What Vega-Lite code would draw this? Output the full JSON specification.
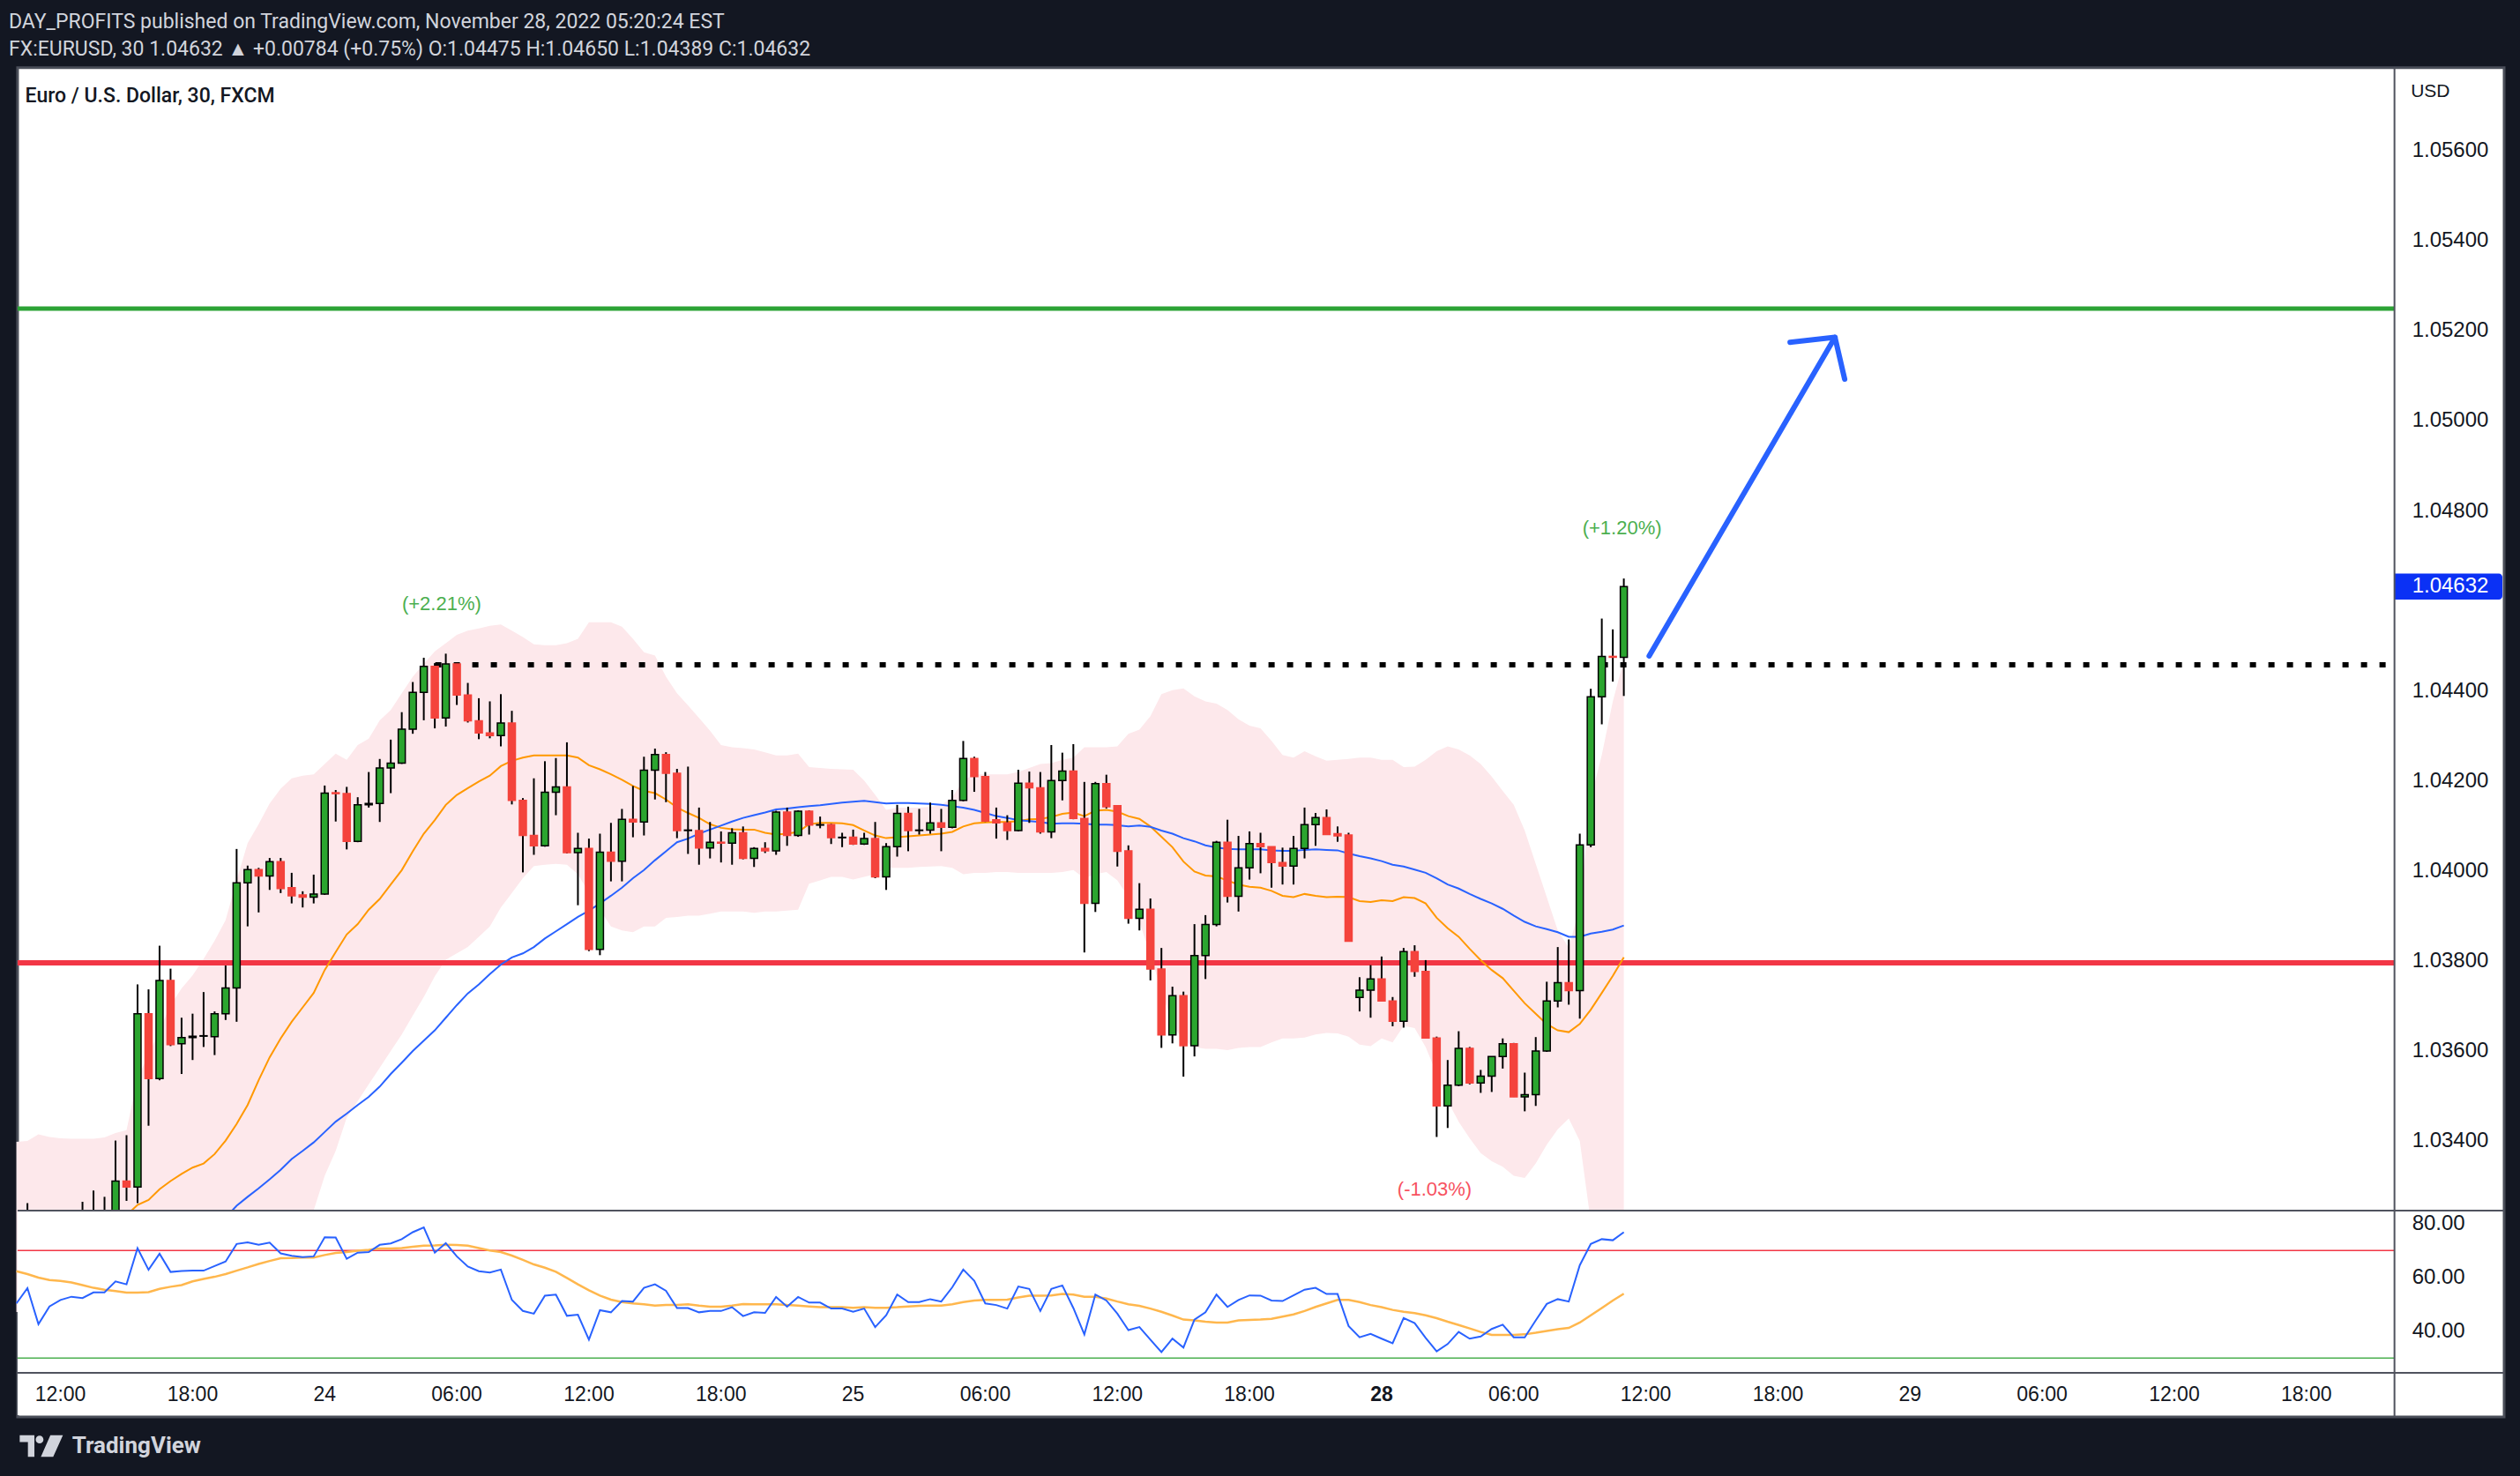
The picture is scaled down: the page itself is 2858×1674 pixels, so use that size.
{
"$schema":"https://vega.github.io/schema/vega-lite/v6.json",
"width":2858,"height":1674,"autosize":{"type":"none"},"padding":0,
"background":"#131722",
"title":{"text":"DAY_PROFITS published on TradingView.com, November 28, 2022 05:20:24 EST","subtitle":"FX:EURUSD, 30 1.04632 ▲ +0.00784 (+0.75%) O:1.04475 H:1.04650 L:1.04389 C:1.04632","anchor":"start","orient":"top","frame":"group","font":"Roboto","fontSize":23,"fontWeight":"normal","color":"#d1d4dc","subtitleFont":"Roboto","subtitleFontSize":23,"subtitleColor":"#d1d4dc","subtitlePadding":8,"offset":-68,"dx":10},
"config":{"view":{"stroke":null},"text":{"font":"Liberation Sans"}},
"datasets":{
"candles":[
{"i":-3,"o":1.0318,"h":1.03262,"l":1.0305,"c":1.032},{"i":-2,"o":1.032,"h":1.0323,"l":1.0308,"c":1.0312},{"i":-1,"o":1.0312,"h":1.0322,"l":1.0306,"c":1.0318},{"i":0,"o":1.0318,"h":1.0323,"l":1.031,"c":1.0315},{"i":1,"o":1.0315,"h":1.0324,"l":1.0311,"c":1.032},{"i":2,"o":1.032,"h":1.03265,"l":1.0316,"c":1.0322},{"i":3,"o":1.0322,"h":1.0329,"l":1.0312,"c":1.032},{"i":4,"o":1.032,"h":1.03276,"l":1.0317,"c":1.0323},{"i":5,"o":1.0323,"h":1.03401,"l":1.032,"c":1.03311},{"i":6,"o":1.03311,"h":1.03413,"l":1.03267,"c":1.03298},
{"i":7,"o":1.03298,"h":1.03748,"l":1.03262,"c":1.03683},{"i":8,"o":1.03683,"h":1.03737,"l":1.03434,"c":1.03539},{"i":9,"o":1.03539,"h":1.03834,"l":1.03535,"c":1.03757},{"i":10,"o":1.03757,"h":1.03783,"l":1.03611,"c":1.03614},{"i":11,"o":1.03616,"h":1.03674,"l":1.03549,"c":1.0363},{"i":12,"o":1.0363,"h":1.03683,"l":1.0358,"c":1.03633},{"i":13,"o":1.03633,"h":1.03731,"l":1.03609,"c":1.03634},{"i":14,"o":1.03632,"h":1.03688,"l":1.03591,"c":1.03683},{"i":15,"o":1.03683,"h":1.0379,"l":1.03669,"c":1.0374},{"i":16,"o":1.0374,"h":1.04049,"l":1.03665,"c":1.03974},
{"i":17,"o":1.03974,"h":1.04012,"l":1.03877,"c":1.04003},{"i":18,"o":1.04003,"h":1.04007,"l":1.03908,"c":1.03989},{"i":19,"o":1.03989,"h":1.04029,"l":1.03958,"c":1.04021},{"i":20,"o":1.04021,"h":1.04029,"l":1.03951,"c":1.03961},{"i":21,"o":1.03963,"h":1.03996,"l":1.03928,"c":1.03945},{"i":22,"o":1.03947,"h":1.03955,"l":1.03919,"c":1.03942},{"i":23,"o":1.03942,"h":1.03992,"l":1.03928,"c":1.03949},{"i":24,"o":1.03949,"h":1.0419,"l":1.03947,"c":1.04173},{"i":25,"o":1.04174,"h":1.0418,"l":1.0411,"c":1.04172},{"i":26,"o":1.04172,"h":1.04187,"l":1.04048,"c":1.04066},
{"i":27,"o":1.04066,"h":1.04164,"l":1.04064,"c":1.04147},{"i":28,"o":1.04147,"h":1.0422,"l":1.04141,"c":1.0415},{"i":29,"o":1.0415,"h":1.04249,"l":1.04109,"c":1.04229},{"i":30,"o":1.04229,"h":1.04292,"l":1.04173,"c":1.0424},{"i":31,"o":1.0424,"h":1.04353,"l":1.04238,"c":1.04315},{"i":32,"o":1.04315,"h":1.0442,"l":1.04305,"c":1.04397},{"i":33,"o":1.04397,"h":1.04474,"l":1.04335,"c":1.04455},{"i":34,"o":1.04455,"h":1.04462,"l":1.04317,"c":1.0434},{"i":35,"o":1.0434,"h":1.04483,"l":1.04321,"c":1.0446},{"i":36,"o":1.0446,"h":1.04462,"l":1.04369,"c":1.04391},
{"i":37,"o":1.04391,"h":1.04418,"l":1.0433,"c":1.04334},{"i":38,"o":1.04334,"h":1.04384,"l":1.04293,"c":1.04307},{"i":39,"o":1.04307,"h":1.04377,"l":1.04295,"c":1.04301},{"i":40,"o":1.04301,"h":1.04393,"l":1.04277,"c":1.04329},{"i":41,"o":1.04329,"h":1.04356,"l":1.04148,"c":1.04157},{"i":42,"o":1.04157,"h":1.04162,"l":1.03997,"c":1.04079},{"i":43,"o":1.04079,"h":1.04206,"l":1.04036,"c":1.04056},{"i":44,"o":1.04056,"h":1.04244,"l":1.04054,"c":1.04175},{"i":45,"o":1.04175,"h":1.04251,"l":1.04124,"c":1.04187},{"i":46,"o":1.04187,"h":1.04286,"l":1.04039,"c":1.04041},
{"i":47,"o":1.04041,"h":1.04085,"l":1.03924,"c":1.0405},{"i":48,"o":1.0405,"h":1.04072,"l":1.03822,"c":1.03826},{"i":49,"o":1.03826,"h":1.04083,"l":1.03813,"c":1.04042},{"i":50,"o":1.04042,"h":1.04107,"l":1.03977,"c":1.04022},{"i":51,"o":1.04022,"h":1.04138,"l":1.03977,"c":1.04115},{"i":52,"o":1.04115,"h":1.04189,"l":1.04075,"c":1.04109},{"i":53,"o":1.04109,"h":1.04254,"l":1.04079,"c":1.04224},{"i":54,"o":1.04224,"h":1.04272,"l":1.04159,"c":1.04259},{"i":55,"o":1.04259,"h":1.04264,"l":1.04153,"c":1.04217},{"i":56,"o":1.04217,"h":1.04227,"l":1.04073,"c":1.0409},
{"i":57,"o":1.0409,"h":1.04232,"l":1.04038,"c":1.04091},{"i":58,"o":1.0409,"h":1.04141,"l":1.04014,"c":1.04051},{"i":59,"o":1.04051,"h":1.04109,"l":1.04028,"c":1.04064},{"i":60,"o":1.04064,"h":1.04088,"l":1.04019,"c":1.04062},{"i":61,"o":1.04062,"h":1.04095,"l":1.04014,"c":1.04085},{"i":62,"o":1.04085,"h":1.04099,"l":1.04026,"c":1.04028},{"i":63,"o":1.04028,"h":1.04053,"l":1.04009,"c":1.0405},{"i":64,"o":1.0405,"h":1.04064,"l":1.0404,"c":1.04045},{"i":65,"o":1.04045,"h":1.04134,"l":1.04036,"c":1.04131},{"i":66,"o":1.04131,"h":1.04141,"l":1.04056,"c":1.04079},
{"i":67,"o":1.04079,"h":1.04135,"l":1.04076,"c":1.04133},{"i":68,"o":1.04133,"h":1.04135,"l":1.04081,"c":1.04102},{"i":69,"o":1.04102,"h":1.04121,"l":1.04095,"c":1.04103},{"i":70,"o":1.04103,"h":1.04105,"l":1.0406,"c":1.04074},{"i":71,"o":1.04074,"h":1.04085,"l":1.04053,"c":1.04075},{"i":72,"o":1.04075,"h":1.04092,"l":1.04058,"c":1.0406},{"i":73,"o":1.0406,"h":1.04085,"l":1.04058,"c":1.04072},{"i":74,"o":1.04072,"h":1.04109,"l":1.03984,"c":1.03987},{"i":75,"o":1.03987,"h":1.04062,"l":1.03958,"c":1.04054},{"i":76,"o":1.04054,"h":1.04147,"l":1.04032,"c":1.04128},
{"i":77,"o":1.04128,"h":1.04143,"l":1.04044,"c":1.0409},{"i":78,"o":1.0409,"h":1.04138,"l":1.04081,"c":1.04091},{"i":79,"o":1.04091,"h":1.04152,"l":1.04083,"c":1.04107},{"i":80,"o":1.04107,"h":1.04138,"l":1.04044,"c":1.04097},{"i":81,"o":1.04097,"h":1.0418,"l":1.04095,"c":1.04157},{"i":82,"o":1.04157,"h":1.04289,"l":1.04155,"c":1.0425},{"i":83,"o":1.0425,"h":1.04254,"l":1.04176,"c":1.0421},{"i":84,"o":1.0421,"h":1.0422,"l":1.04109,"c":1.04111},{"i":85,"o":1.04114,"h":1.04141,"l":1.04072,"c":1.04107},{"i":86,"o":1.04107,"h":1.04124,"l":1.04069,"c":1.0409},
{"i":87,"o":1.0409,"h":1.04225,"l":1.04088,"c":1.04195},{"i":88,"o":1.04195,"h":1.04221,"l":1.04107,"c":1.04185},{"i":89,"o":1.04185,"h":1.0422,"l":1.04083,"c":1.04087},{"i":90,"o":1.04087,"h":1.0428,"l":1.04073,"c":1.04201},{"i":91,"o":1.04201,"h":1.04263,"l":1.04157,"c":1.04222},{"i":92,"o":1.04222,"h":1.04282,"l":1.04115,"c":1.04117},{"i":93,"o":1.04117,"h":1.04198,"l":1.03819,"c":1.03928},{"i":94,"o":1.03928,"h":1.04198,"l":1.03909,"c":1.04194},{"i":95,"o":1.04194,"h":1.04214,"l":1.04139,"c":1.04143},{"i":96,"o":1.04145,"h":1.04145,"l":1.0401,"c":1.04044},
{"i":97,"o":1.04045,"h":1.04057,"l":1.03883,"c":1.03895},{"i":98,"o":1.03895,"h":1.03973,"l":1.03868,"c":1.03915},{"i":99,"o":1.03915,"h":1.03939,"l":1.03757,"c":1.03782},{"i":100,"o":1.03782,"h":1.03829,"l":1.03607,"c":1.03636},{"i":101,"o":1.03636,"h":1.03743,"l":1.03617,"c":1.03723},{"i":102,"o":1.03723,"h":1.03732,"l":1.03543,"c":1.03612},{"i":103,"o":1.03612,"h":1.03882,"l":1.03588,"c":1.03812},{"i":104,"o":1.03812,"h":1.03902,"l":1.0376,"c":1.03881},{"i":105,"o":1.03881,"h":1.04067,"l":1.03877,"c":1.04064},{"i":106,"o":1.04064,"h":1.04114,"l":1.0393,"c":1.03944},
{"i":107,"o":1.03944,"h":1.04078,"l":1.0391,"c":1.04007},{"i":108,"o":1.04007,"h":1.04088,"l":1.03981,"c":1.04061},{"i":109,"o":1.04061,"h":1.04085,"l":1.03995,"c":1.04054},{"i":110,"o":1.04054,"h":1.04054,"l":1.03963,"c":1.04019},{"i":111,"o":1.04019,"h":1.04052,"l":1.0397,"c":1.04011},{"i":112,"o":1.04011,"h":1.04078,"l":1.0397,"c":1.0405},{"i":113,"o":1.0405,"h":1.04141,"l":1.04028,"c":1.04103},{"i":114,"o":1.04103,"h":1.04129,"l":1.04056,"c":1.04119},{"i":115,"o":1.04119,"h":1.04137,"l":1.04081,"c":1.04081},{"i":116,"o":1.04083,"h":1.04099,"l":1.04065,"c":1.04078},
{"i":117,"o":1.0408,"h":1.04085,"l":1.03844,"c":1.03844},{"i":118,"o":1.03719,"h":1.03764,"l":1.03688,"c":1.03735},{"i":119,"o":1.03735,"h":1.03791,"l":1.03674,"c":1.0376},{"i":120,"o":1.0376,"h":1.0381,"l":1.03711,"c":1.03711},{"i":121,"o":1.03711,"h":1.0372,"l":1.03655,"c":1.03666},{"i":122,"o":1.03666,"h":1.03829,"l":1.03652,"c":1.03821},{"i":123,"o":1.03821,"h":1.03835,"l":1.03765,"c":1.03777},{"i":124,"o":1.03777,"h":1.03802,"l":1.03629,"c":1.03629},{"i":125,"o":1.03629,"h":1.03632,"l":1.03409,"c":1.03478},{"i":126,"o":1.03478,"h":1.0358,"l":1.03429,"c":1.03524},
{"i":127,"o":1.03524,"h":1.03644,"l":1.03522,"c":1.03606},{"i":128,"o":1.03606,"h":1.03609,"l":1.03526,"c":1.03529},{"i":129,"o":1.03529,"h":1.03558,"l":1.03507,"c":1.03544},{"i":130,"o":1.03544,"h":1.03588,"l":1.03509,"c":1.03588},{"i":131,"o":1.03588,"h":1.03628,"l":1.03561,"c":1.03616},{"i":132,"o":1.03616,"h":1.03618,"l":1.03498,"c":1.03498},{"i":133,"o":1.03498,"h":1.03552,"l":1.03466,"c":1.03503},{"i":134,"o":1.03503,"h":1.03631,"l":1.03478,"c":1.036},{"i":135,"o":1.036,"h":1.03754,"l":1.03598,"c":1.03711},{"i":136,"o":1.03711,"h":1.03831,"l":1.03697,"c":1.03752},
{"i":137,"o":1.03752,"h":1.03848,"l":1.03703,"c":1.03734},{"i":138,"o":1.03734,"h":1.04083,"l":1.03672,"c":1.04058},{"i":139,"o":1.04058,"h":1.04405,"l":1.04053,"c":1.04387},{"i":140,"o":1.04387,"h":1.04561,"l":1.04326,"c":1.04477},{"i":141,"o":1.04477,"h":1.04537,"l":1.04421,"c":1.04475},{"i":142,"o":1.04475,"h":1.0465,"l":1.04389,"c":1.04632}
],
"bb":[
{"i":-4,"u":1.03398,"lo":1.0302},{"i":-3,"u":1.034,"lo":1.0302},{"i":-2,"u":1.03415,"lo":1.0301},{"i":-1,"u":1.03409,"lo":1.0301},{"i":0,"u":1.03406,"lo":1.0301},{"i":1,"u":1.03405,"lo":1.0301},{"i":2,"u":1.03405,"lo":1.0301},{"i":3,"u":1.03405,"lo":1.0301},{"i":4,"u":1.03408,"lo":1.0301},{"i":5,"u":1.03418,"lo":1.0302},{"i":6,"u":1.03424,"lo":1.0304},
{"i":7,"u":1.0354,"lo":1.02976},{"i":8,"u":1.03591,"lo":1.02947},{"i":9,"u":1.03646,"lo":1.0294},{"i":10,"u":1.03702,"lo":1.0292},{"i":11,"u":1.03739,"lo":1.02915},{"i":12,"u":1.03768,"lo":1.02914},{"i":13,"u":1.03805,"lo":1.02895},{"i":14,"u":1.03845,"lo":1.02897},{"i":15,"u":1.03891,"lo":1.02911},{"i":16,"u":1.03979,"lo":1.02897},
{"i":17,"u":1.04062,"lo":1.02898},{"i":18,"u":1.04104,"lo":1.02966},{"i":19,"u":1.0415,"lo":1.03022},{"i":20,"u":1.04183,"lo":1.03073},{"i":21,"u":1.04206,"lo":1.03124},{"i":22,"u":1.04212,"lo":1.03182},{"i":23,"u":1.04215,"lo":1.03246},{"i":24,"u":1.04238,"lo":1.03323},{"i":25,"u":1.04261,"lo":1.03378},{"i":26,"u":1.04247,"lo":1.03452},
{"i":27,"u":1.0428,"lo":1.03489},{"i":28,"u":1.04294,"lo":1.03526},{"i":29,"u":1.04335,"lo":1.03563},{"i":30,"u":1.04358,"lo":1.036},{"i":31,"u":1.04395,"lo":1.03637},{"i":32,"u":1.04432,"lo":1.03679},{"i":33,"u":1.0446,"lo":1.0372},{"i":34,"u":1.04488,"lo":1.03766},{"i":35,"u":1.04506,"lo":1.03803},{"i":36,"u":1.04525,"lo":1.03817},
{"i":37,"u":1.04534,"lo":1.03831},{"i":38,"u":1.04539,"lo":1.03854},{"i":39,"u":1.04545,"lo":1.03877},{"i":40,"u":1.04548,"lo":1.03919},{"i":41,"u":1.04534,"lo":1.03951},{"i":42,"u":1.0452,"lo":1.03984},{"i":43,"u":1.04504,"lo":1.04011},{"i":44,"u":1.04502,"lo":1.04014},{"i":45,"u":1.04502,"lo":1.04016},{"i":46,"u":1.04506,"lo":1.04014},
{"i":47,"u":1.04516,"lo":1.03993},{"i":48,"u":1.04553,"lo":1.03951},{"i":49,"u":1.04553,"lo":1.03914},{"i":50,"u":1.04553,"lo":1.03877},{"i":51,"u":1.04543,"lo":1.03868},{"i":52,"u":1.04516,"lo":1.03864},{"i":53,"u":1.04486,"lo":1.03877},{"i":54,"u":1.04479,"lo":1.03877},{"i":55,"u":1.04432,"lo":1.03896},{"i":56,"u":1.04395,"lo":1.03898},
{"i":57,"u":1.04368,"lo":1.03901},{"i":58,"u":1.0434,"lo":1.03901},{"i":59,"u":1.04312,"lo":1.03905},{"i":60,"u":1.0428,"lo":1.0391},{"i":61,"u":1.04275,"lo":1.0391},{"i":62,"u":1.04273,"lo":1.0391},{"i":63,"u":1.0427,"lo":1.03907},{"i":64,"u":1.04264,"lo":1.0391},{"i":65,"u":1.04257,"lo":1.0391},{"i":66,"u":1.04257,"lo":1.03912},
{"i":67,"u":1.04261,"lo":1.03914},{"i":68,"u":1.04231,"lo":1.03972},{"i":69,"u":1.04229,"lo":1.03979},{"i":70,"u":1.04227,"lo":1.03987},{"i":71,"u":1.04226,"lo":1.03987},{"i":72,"u":1.04225,"lo":1.03981},{"i":73,"u":1.04201,"lo":1.03987},{"i":74,"u":1.04169,"lo":1.03993},{"i":75,"u":1.04136,"lo":1.04007},{"i":76,"u":1.04141,"lo":1.04007},
{"i":77,"u":1.04141,"lo":1.04007},{"i":78,"u":1.04141,"lo":1.04009},{"i":79,"u":1.04143,"lo":1.0401},{"i":80,"u":1.04146,"lo":1.04011},{"i":81,"u":1.04164,"lo":1.04007},{"i":82,"u":1.04201,"lo":1.03993},{"i":83,"u":1.04215,"lo":1.03996},{"i":84,"u":1.04215,"lo":1.03996},{"i":85,"u":1.04215,"lo":1.03998},{"i":86,"u":1.04215,"lo":1.03998},
{"i":87,"u":1.0422,"lo":1.03996},{"i":88,"u":1.04229,"lo":1.03996},{"i":89,"u":1.04238,"lo":1.03996},{"i":90,"u":1.0424,"lo":1.03996},{"i":91,"u":1.04247,"lo":1.03998},{"i":92,"u":1.04252,"lo":1.04002},{"i":93,"u":1.04275,"lo":1.03984},{"i":94,"u":1.04275,"lo":1.03993},{"i":95,"u":1.04275,"lo":1.03998},{"i":96,"u":1.04277,"lo":1.03979},
{"i":97,"u":1.04305,"lo":1.03942},{"i":98,"u":1.04314,"lo":1.03887},{"i":99,"u":1.04344,"lo":1.03813},{"i":100,"u":1.04393,"lo":1.03734},{"i":101,"u":1.04402,"lo":1.0366},{"i":102,"u":1.04406,"lo":1.03623},{"i":103,"u":1.04388,"lo":1.03609},{"i":104,"u":1.04377,"lo":1.03605},{"i":105,"u":1.04372,"lo":1.03605},{"i":106,"u":1.04358,"lo":1.03602},
{"i":107,"u":1.04337,"lo":1.03607},{"i":108,"u":1.04323,"lo":1.03609},{"i":109,"u":1.04317,"lo":1.03609},{"i":110,"u":1.04289,"lo":1.03619},{"i":111,"u":1.04258,"lo":1.03628},{"i":112,"u":1.04252,"lo":1.03628},{"i":113,"u":1.04266,"lo":1.0363},{"i":114,"u":1.04255,"lo":1.03637},{"i":115,"u":1.04245,"lo":1.0364},{"i":116,"u":1.04247,"lo":1.03639},
{"i":117,"u":1.04249,"lo":1.03632},{"i":118,"u":1.04252,"lo":1.03614},{"i":119,"u":1.04252,"lo":1.03611},{"i":120,"u":1.04247,"lo":1.03628},{"i":121,"u":1.04247,"lo":1.03619},{"i":122,"u":1.04231,"lo":1.03656},{"i":123,"u":1.04232,"lo":1.03651},{"i":124,"u":1.04247,"lo":1.03609},{"i":125,"u":1.04266,"lo":1.03549},{"i":126,"u":1.04277,"lo":1.03489},
{"i":127,"u":1.0427,"lo":1.03443},{"i":128,"u":1.04257,"lo":1.03406},{"i":129,"u":1.04238,"lo":1.03373},{"i":130,"u":1.0421,"lo":1.03355},{"i":131,"u":1.04178,"lo":1.03343},{"i":132,"u":1.04147,"lo":1.03323},{"i":133,"u":1.0409,"lo":1.03318},{"i":134,"u":1.04016,"lo":1.0335},{"i":135,"u":1.03942,"lo":1.03392},{"i":136,"u":1.03868,"lo":1.03426},
{"i":137,"u":1.0383,"lo":1.0345},{"i":138,"u":1.0392,"lo":1.034},{"i":139,"u":1.0416,"lo":1.0322},{"i":140,"u":1.04258,"lo":1.032},{"i":141,"u":1.04377,"lo":1.03157},{"i":142,"u":1.04469,"lo":1.03147}
],
"basis":[
{"i":6,"m":1.03235},{"i":7,"m":1.03258},{"i":8,"m":1.03269},{"i":9,"m":1.03293},{"i":10,"m":1.03311},{"i":11,"m":1.03327},{"i":12,"m":1.03341},{"i":13,"m":1.0335},{"i":14,"m":1.03371},{"i":15,"m":1.03401},{"i":16,"m":1.03438},{"i":17,"m":1.0348},{"i":18,"m":1.03535},{"i":19,"m":1.03586},{"i":20,"m":1.03628},{"i":21,"m":1.03665},{"i":22,"m":1.03697},{"i":23,"m":1.03729},{"i":24,"m":1.0378},{"i":25,"m":1.0382},{"i":26,"m":1.03859},{"i":27,"m":1.03882},{"i":28,"m":1.03914},{"i":29,"m":1.03938},{"i":30,"m":1.0397},{"i":31,"m":1.04002},{"i":32,"m":1.04044},{"i":33,"m":1.04083},{"i":34,"m":1.04113},{"i":35,"m":1.04147},{"i":36,"m":1.04169},{"i":37,"m":1.04184},{"i":38,"m":1.04199},{"i":39,"m":1.04212},{"i":40,"m":1.04233},{"i":41,"m":1.04245},{"i":42,"m":1.04252},{"i":43,"m":1.04257},{"i":44,"m":1.04257},{"i":45,"m":1.04257},{"i":46,"m":1.04257},{"i":47,"m":1.04252},{"i":48,"m":1.04235},{"i":49,"m":1.04226},{"i":50,"m":1.04215},{"i":51,"m":1.04203},{"i":52,"m":1.04189},{"i":53,"m":1.04178},{"i":54,"m":1.04173},{"i":55,"m":1.04159},{"i":56,"m":1.04141},{"i":57,"m":1.04129},{"i":58,"m":1.04118},{"i":59,"m":1.04104},{"i":60,"m":1.04096},{"i":61,"m":1.04093},{"i":62,"m":1.04092},{"i":63,"m":1.04092},{"i":64,"m":1.04085},{"i":65,"m":1.04081},{"i":66,"m":1.04083},{"i":67,"m":1.04087},{"i":68,"m":1.04104},{"i":69,"m":1.04107},{"i":70,"m":1.04107},{"i":71,"m":1.04106},{"i":72,"m":1.04102},{"i":73,"m":1.0409},{"i":74,"m":1.04079},{"i":75,"m":1.04073},{"i":76,"m":1.04075},{"i":77,"m":1.04077},{"i":78,"m":1.04079},{"i":79,"m":1.04081},{"i":80,"m":1.04083},{"i":81,"m":1.04087},{"i":82,"m":1.04099},{"i":83,"m":1.04106},{"i":84,"m":1.04108},{"i":85,"m":1.04109},{"i":86,"m":1.04109},{"i":87,"m":1.04111},{"i":88,"m":1.04115},{"i":89,"m":1.04116},{"i":90,"m":1.0412},{"i":91,"m":1.04127},{"i":92,"m":1.0413},{"i":93,"m":1.04122},{"i":94,"m":1.04134},{"i":95,"m":1.04136},{"i":96,"m":1.04132},{"i":97,"m":1.04122},{"i":98,"m":1.04116},{"i":99,"m":1.04099},{"i":100,"m":1.04076},{"i":101,"m":1.04053},{"i":102,"m":1.04021},{"i":103,"m":1.03999},{"i":104,"m":1.0399},{"i":105,"m":1.03988},{"i":106,"m":1.03979},{"i":107,"m":1.0397},{"i":108,"m":1.03965},{"i":109,"m":1.03963},{"i":110,"m":1.03956},{"i":111,"m":1.03945},{"i":112,"m":1.03942},{"i":113,"m":1.03949},{"i":114,"m":1.03945},{"i":115,"m":1.03942},{"i":116,"m":1.03943},{"i":117,"m":1.03942},{"i":118,"m":1.03933},{"i":119,"m":1.03931},{"i":120,"m":1.03935},{"i":121,"m":1.03933},{"i":122,"m":1.03942},{"i":123,"m":1.0394},{"i":124,"m":1.03928},{"i":125,"m":1.03896},{"i":126,"m":1.03873},{"i":127,"m":1.03854},{"i":128,"m":1.03827},{"i":129,"m":1.03802},{"i":130,"m":1.0378},{"i":131,"m":1.03762},{"i":132,"m":1.03734},{"i":133,"m":1.03706},{"i":134,"m":1.03683},{"i":135,"m":1.0366},{"i":136,"m":1.03646},{"i":137,"m":1.03642},{"i":138,"m":1.0366},{"i":139,"m":1.03692},{"i":140,"m":1.03729},{"i":141,"m":1.03767},{"i":142,"m":1.03808}
],
"slow":[
{"i":15,"b":1.0323},{"i":16,"b":1.03256},{"i":17,"b":1.03276},{"i":18,"b":1.03295},{"i":19,"b":1.03315},{"i":20,"b":1.03336},{"i":21,"b":1.0336},{"i":22,"b":1.03378},{"i":23,"b":1.03397},{"i":24,"b":1.0342},{"i":25,"b":1.03443},{"i":26,"b":1.03461},{"i":27,"b":1.0348},{"i":28,"b":1.03498},{"i":29,"b":1.03521},{"i":30,"b":1.03549},{"i":31,"b":1.03574},{"i":32,"b":1.036},{"i":33,"b":1.03623},{"i":34,"b":1.03646},{"i":35,"b":1.03674},{"i":36,"b":1.03702},{"i":37,"b":1.03728},{"i":38,"b":1.03748},{"i":39,"b":1.03771},{"i":40,"b":1.03792},{"i":41,"b":1.03808},{"i":42,"b":1.03817},{"i":43,"b":1.03831},{"i":44,"b":1.0385},{"i":45,"b":1.03866},{"i":46,"b":1.03882},{"i":47,"b":1.03898},{"i":48,"b":1.03912},{"i":49,"b":1.03928},{"i":50,"b":1.03945},{"i":51,"b":1.03963},{"i":52,"b":1.03984},{"i":53,"b":1.04002},{"i":54,"b":1.04024},{"i":55,"b":1.04044},{"i":56,"b":1.04064},{"i":57,"b":1.04072},{"i":58,"b":1.04083},{"i":59,"b":1.04092},{"i":60,"b":1.04101},{"i":61,"b":1.0411},{"i":62,"b":1.04118},{"i":63,"b":1.04124},{"i":64,"b":1.0413},{"i":65,"b":1.04137},{"i":66,"b":1.04139},{"i":67,"b":1.04142},{"i":68,"b":1.04144},{"i":69,"b":1.04146},{"i":70,"b":1.04149},{"i":71,"b":1.04152},{"i":72,"b":1.04154},{"i":73,"b":1.04156},{"i":74,"b":1.04153},{"i":75,"b":1.0415},{"i":76,"b":1.04151},{"i":77,"b":1.04151},{"i":78,"b":1.0415},{"i":79,"b":1.04149},{"i":80,"b":1.04147},{"i":81,"b":1.04144},{"i":82,"b":1.04141},{"i":83,"b":1.04136},{"i":84,"b":1.04129},{"i":85,"b":1.04122},{"i":86,"b":1.04118},{"i":87,"b":1.04113},{"i":88,"b":1.04111},{"i":89,"b":1.04109},{"i":90,"b":1.04105},{"i":91,"b":1.04106},{"i":92,"b":1.04106},{"i":93,"b":1.04105},{"i":94,"b":1.04103},{"i":95,"b":1.04103},{"i":96,"b":1.04102},{"i":97,"b":1.04099},{"i":98,"b":1.04101},{"i":99,"b":1.04098},{"i":100,"b":1.0409},{"i":101,"b":1.04083},{"i":102,"b":1.04073},{"i":103,"b":1.04066},{"i":104,"b":1.04057},{"i":105,"b":1.04052},{"i":106,"b":1.04049},{"i":107,"b":1.04048},{"i":108,"b":1.04048},{"i":109,"b":1.04048},{"i":110,"b":1.04046},{"i":111,"b":1.04045},{"i":112,"b":1.04045},{"i":113,"b":1.04047},{"i":114,"b":1.04048},{"i":115,"b":1.04047},{"i":116,"b":1.04046},{"i":117,"b":1.04039},{"i":118,"b":1.04033},{"i":119,"b":1.04028},{"i":120,"b":1.04022},{"i":121,"b":1.04014},{"i":122,"b":1.0401},{"i":123,"b":1.04003},{"i":124,"b":1.03996},{"i":125,"b":1.03984},{"i":126,"b":1.0397},{"i":127,"b":1.03961},{"i":128,"b":1.03949},{"i":129,"b":1.03938},{"i":130,"b":1.03928},{"i":131,"b":1.03916},{"i":132,"b":1.03901},{"i":133,"b":1.03887},{"i":134,"b":1.03877},{"i":135,"b":1.03871},{"i":136,"b":1.03864},{"i":137,"b":1.03854},{"i":138,"b":1.03854},{"i":139,"b":1.03861},{"i":140,"b":1.03865},{"i":141,"b":1.0387},{"i":142,"b":1.03879}
],
"rsi":[
{"i":-4,"r":50.3,"rm":62.3},{"i":-3,"r":56.0,"rm":61.2},{"i":-2,"r":42.6,"rm":59.9},{"i":-1,"r":49.2,"rm":59.0},{"i":0,"r":51.6,"rm":58.7},{"i":1,"r":52.8,"rm":58.1},{"i":2,"r":52.3,"rm":57.1},{"i":3,"r":54.4,"rm":56.1},{"i":4,"r":54.4,"rm":55.4},{"i":5,"r":58.5,"rm":54.9},{"i":6,"r":57.4,"rm":54.3},{"i":7,"r":70.8,"rm":54.3},{"i":8,"r":62.8,"rm":54.5},{"i":9,"r":68.8,"rm":55.7},{"i":10,"r":62.0,"rm":56.5},{"i":11,"r":62.4,"rm":57.1},{"i":12,"r":62.5,"rm":58.5},{"i":13,"r":62.5,"rm":59.4},{"i":14,"r":64.2,"rm":60.2},{"i":15,"r":65.9,"rm":61.2},{"i":16,"r":72.4,"rm":62.5},{"i":17,"r":73.0,"rm":63.7},{"i":18,"r":72.1,"rm":65.0},{"i":19,"r":72.9,"rm":66.1},{"i":20,"r":68.9,"rm":67.1},{"i":21,"r":68.0,"rm":67.2},{"i":22,"r":67.5,"rm":67.4},{"i":23,"r":67.8,"rm":67.4},{"i":24,"r":74.9,"rm":68.3},{"i":25,"r":74.8,"rm":69.1},{"i":26,"r":66.9,"rm":69.4},{"i":27,"r":69.2,"rm":69.9},{"i":28,"r":69.4,"rm":70.2},{"i":29,"r":72.1,"rm":70.7},{"i":30,"r":72.6,"rm":70.7},{"i":31,"r":74.2,"rm":70.9},{"i":32,"r":76.8,"rm":71.4},{"i":33,"r":78.6,"rm":71.8},{"i":34,"r":69.2,"rm":71.9},{"i":35,"r":72.7,"rm":72.1},{"i":36,"r":67.8,"rm":72.0},{"i":37,"r":64.0,"rm":71.8},{"i":38,"r":62.3,"rm":70.9},{"i":39,"r":61.8,"rm":70.0},{"i":40,"r":62.9,"rm":69.4},{"i":41,"r":51.6,"rm":68.1},{"i":42,"r":47.5,"rm":66.5},{"i":43,"r":46.5,"rm":64.8},{"i":44,"r":53.2,"rm":63.6},{"i":45,"r":53.6,"rm":62.1},{"i":46,"r":45.7,"rm":59.8},{"i":47,"r":46.1,"rm":57.4},{"i":48,"r":36.8,"rm":55.2},{"i":49,"r":47.8,"rm":53.2},{"i":50,"r":47.0,"rm":51.7},{"i":51,"r":51.2,"rm":50.8},{"i":52,"r":51.0,"rm":50.3},{"i":53,"r":56.1,"rm":50.0},{"i":54,"r":57.4,"rm":49.5},{"i":55,"r":55.0,"rm":49.7},{"i":56,"r":48.6,"rm":49.7},{"i":57,"r":48.6,"rm":50.0},{"i":58,"r":47.0,"rm":49.5},{"i":59,"r":47.5,"rm":49.1},{"i":60,"r":47.5,"rm":49.1},{"i":61,"r":48.9,"rm":49.5},{"i":62,"r":45.6,"rm":50.1},{"i":63,"r":47.0,"rm":50.0},{"i":64,"r":46.8,"rm":50.0},{"i":65,"r":52.7,"rm":50.0},{"i":66,"r":49.1,"rm":49.7},{"i":67,"r":52.7,"rm":49.5},{"i":68,"r":50.6,"rm":49.2},{"i":69,"r":50.6,"rm":48.9},{"i":70,"r":48.4,"rm":48.9},{"i":71,"r":48.4,"rm":48.9},{"i":72,"r":47.2,"rm":48.7},{"i":73,"r":48.4,"rm":48.9},{"i":74,"r":41.5,"rm":48.7},{"i":75,"r":45.9,"rm":48.7},
{"i":76,"r":53.6,"rm":48.9},{"i":77,"r":50.8,"rm":49.2},{"i":78,"r":50.8,"rm":49.4},{"i":79,"r":51.9,"rm":49.5},{"i":80,"r":51.0,"rm":49.5},{"i":81,"r":56.3,"rm":50.0},{"i":82,"r":62.9,"rm":50.8},{"i":83,"r":58.7,"rm":51.4},{"i":84,"r":50.3,"rm":51.6},{"i":85,"r":49.7,"rm":51.6},{"i":86,"r":48.4,"rm":51.7},{"i":87,"r":56.6,"rm":52.5},{"i":88,"r":55.7,"rm":53.2},{"i":89,"r":47.5,"rm":53.2},{"i":90,"r":55.7,"rm":53.3},{"i":91,"r":57.0,"rm":53.8},{"i":92,"r":48.6,"rm":53.6},{"i":93,"r":38.8,"rm":52.8},{"i":94,"r":53.6,"rm":52.8},{"i":95,"r":51.4,"rm":52.1},{"i":96,"r":46.5,"rm":51.0},{"i":97,"r":40.4,"rm":50.0},{"i":98,"r":41.5,"rm":49.4},{"i":99,"r":36.8,"rm":48.4},{"i":100,"r":32.2,"rm":47.2},{"i":101,"r":37.2,"rm":45.8},{"i":102,"r":33.9,"rm":44.3},{"i":103,"r":44.3,"rm":44.0},{"i":104,"r":47.0,"rm":43.5},{"i":105,"r":53.6,"rm":43.2},{"i":106,"r":49.0,"rm":43.2},{"i":107,"r":51.6,"rm":44.0},{"i":108,"r":53.3,"rm":44.2},{"i":109,"r":53.2,"rm":44.3},{"i":110,"r":51.4,"rm":44.6},{"i":111,"r":51.2,"rm":45.4},{"i":112,"r":53.3,"rm":46.2},{"i":113,"r":55.4,"rm":47.5},{"i":114,"r":56.1,"rm":49.0},{"i":115,"r":53.8,"rm":50.3},{"i":116,"r":53.8,"rm":51.6},{"i":117,"r":41.9,"rm":51.6},{"i":118,"r":37.7,"rm":50.8},{"i":119,"r":39.0,"rm":49.7},{"i":120,"r":37.2,"rm":48.9},{"i":121,"r":35.5,"rm":47.9},{"i":122,"r":44.9,"rm":47.2},{"i":123,"r":43.0,"rm":46.7},{"i":124,"r":37.5,"rm":45.9},{"i":125,"r":32.5,"rm":44.8},{"i":126,"r":35.2,"rm":43.5},{"i":127,"r":39.7,"rm":42.3},{"i":128,"r":37.2,"rm":41.0},{"i":129,"r":38.0,"rm":39.7},{"i":130,"r":40.8,"rm":38.6},{"i":131,"r":42.4,"rm":38.6},{"i":132,"r":37.7,"rm":38.6},{"i":133,"r":37.7,"rm":38.8},{"i":134,"r":44.0,"rm":39.4},{"i":135,"r":50.1,"rm":40.1},{"i":136,"r":51.9,"rm":40.7},{"i":137,"r":51.0,"rm":41.2},{"i":138,"r":64.5,"rm":43.2},{"i":139,"r":72.4,"rm":45.9},{"i":140,"r":74.2,"rm":48.6},{"i":141,"r":73.8,"rm":51.4},{"i":142,"r":76.8,"rm":53.9}
],
"notes":[{"i":34.62,"p":1.04593,"t":"(+2.21%)","dir":"up"},{"i":141.84,"p":1.04761,"t":"(+1.20%)","dir":"up"},{"i":124.81,"p":1.03293,"t":"(-1.03%)","dir":"down"}],
"arrow":[{"seg":"shaft","k":0,"i":144.3,"p":1.04478},{"seg":"shaft","k":1,"i":161.18,"p":1.05186},{"seg":"head","k":0,"i":157.1,"p":1.05175},{"seg":"head","k":1,"i":161.18,"p":1.05186},{"seg":"head","k":2,"i":162.06,"p":1.05093}],
"pticks":[{"v":1.034},{"v":1.036},{"v":1.038},{"v":1.04},{"v":1.042},{"v":1.044},{"v":1.048},{"v":1.05},{"v":1.052},{"v":1.054},{"v":1.056}],
"rticks":[{"v":40},{"v":60},{"v":80}],
"tticks":[{"i":0,"lab":"12:00","day":false},{"i":12,"lab":"18:00","day":false},{"i":24,"lab":"24","day":false},{"i":36,"lab":"06:00","day":false},{"i":48,"lab":"12:00","day":false},{"i":60,"lab":"18:00","day":false},{"i":72,"lab":"25","day":false},{"i":84,"lab":"06:00","day":false},{"i":96,"lab":"12:00","day":false},{"i":108,"lab":"18:00","day":false},{"i":120,"lab":"28","day":true},{"i":132,"lab":"06:00","day":false},{"i":144,"lab":"12:00","day":false},{"i":156,"lab":"18:00","day":false},{"i":168,"lab":"29","day":false},{"i":180,"lab":"06:00","day":false},{"i":192,"lab":"12:00","day":false},{"i":204,"lab":"18:00","day":false}]
},
"layer":[
{"layer":[
{"data":{"values":[{}]},"mark":{"type":"rect","fill":"#ffffff","stroke":"#4a4e59","strokeWidth":3},
 "encoding":{"x":{"datum":-3.895,"type":"quantitative","scale":{"domain":[-5.092,223.0],"nice":false,"zero":false},"axis":null},"x2":{"datum":221.96},
 "y":{"datum":1.05785,"type":"quantitative","scale":{"domain":[1.026556,1.059356],"nice":false,"zero":false},"axis":null},"y2":{"datum":1.02787}}},
{"data":{"name":"bb"},"mark":{"type":"area","fill":"#fde8eb"},
 "encoding":{"x":{"field":"i","type":"quantitative","scale":{"domain":[-5.092,223.0],"nice":false,"zero":false},"axis":null},
 "y":{"field":"u","type":"quantitative","scale":{"domain":[1.026556,1.059356],"nice":false,"zero":false},"axis":null},"y2":{"field":"lo"}}},
{"data":{"values":[{}]},"mark":{"type":"rule","color":"#2ca336","strokeWidth":5},
 "encoding":{"x":{"datum":-3.895,"type":"quantitative","scale":{"domain":[-5.092,223.0],"nice":false,"zero":false},"axis":null},"x2":{"datum":212.0},
 "y":{"datum":1.0525,"type":"quantitative","scale":{"domain":[1.026556,1.059356],"nice":false,"zero":false},"axis":null}}},
{"data":{"values":[{}]},"mark":{"type":"rule","color":"#f23645","strokeWidth":6},
 "encoding":{"x":{"datum":-3.895,"type":"quantitative","scale":{"domain":[-5.092,223.0],"nice":false,"zero":false},"axis":null},"x2":{"datum":212.0},
 "y":{"datum":1.03796,"type":"quantitative","scale":{"domain":[1.026556,1.059356],"nice":false,"zero":false},"axis":null}}},
{"data":{"values":[{}]},"mark":{"type":"rule","color":"#000000","strokeWidth":6,"strokeDash":[7,14],"strokeCap":"butt"},
 "encoding":{"x":{"datum":34.04,"type":"quantitative","scale":{"domain":[-5.092,223.0],"nice":false,"zero":false},"axis":null},"x2":{"datum":212.0},
 "y":{"datum":1.04458,"type":"quantitative","scale":{"domain":[1.026556,1.059356],"nice":false,"zero":false},"axis":null}}},
{"data":{"name":"basis"},"mark":{"type":"line","color":"#ff9800","strokeWidth":2},
 "encoding":{"x":{"field":"i","type":"quantitative","scale":{"domain":[-5.092,223.0],"nice":false,"zero":false},"axis":null},
 "y":{"field":"m","type":"quantitative","scale":{"domain":[1.026556,1.059356],"nice":false,"zero":false},"axis":null}}},
{"data":{"name":"slow"},"mark":{"type":"line","color":"#2962ff","strokeWidth":2},
 "encoding":{"x":{"field":"i","type":"quantitative","scale":{"domain":[-5.092,223.0],"nice":false,"zero":false},"axis":null},
 "y":{"field":"b","type":"quantitative","scale":{"domain":[1.026556,1.059356],"nice":false,"zero":false},"axis":null}}},
{"data":{"name":"candles"},"mark":{"type":"rule","color":"#000000","strokeWidth":2},
 "encoding":{"x":{"field":"i","type":"quantitative","scale":{"domain":[-5.092,223.0],"nice":false,"zero":false},"axis":null},
 "y":{"field":"l","type":"quantitative","scale":{"domain":[1.026556,1.059356],"nice":false,"zero":false},"axis":null},"y2":{"field":"h"}}},
{"data":{"name":"candles"},"mark":{"type":"bar","width":8,"strokeWidth":1.5},
 "encoding":{"x":{"field":"i","type":"quantitative","scale":{"domain":[-5.092,223.0],"nice":false,"zero":false},"axis":null},
 "y":{"field":"o","type":"quantitative","scale":{"domain":[1.026556,1.059356],"nice":false,"zero":false},"axis":null},"y2":{"field":"c"},
 "fill":{"condition":{"test":"datum.c >= datum.o","value":"#2ba52f"},"value":"#f4433c"},
 "stroke":{"condition":{"test":"datum.c >= datum.o","value":"#000000"},"value":"#f4433c"}}},
{"data":{"name":"notes"},"mark":{"type":"text","fontSize":22,"align":"center","baseline":"middle"},
 "encoding":{"x":{"field":"i","type":"quantitative","scale":{"domain":[-5.092,223.0],"nice":false,"zero":false},"axis":null},
 "y":{"field":"p","type":"quantitative","scale":{"domain":[1.026556,1.059356],"nice":false,"zero":false},"axis":null},
 "text":{"field":"t"},"color":{"condition":{"test":"datum.dir == 'up'","value":"#4caf50"},"value":"#f7525f"}}},
{"data":{"name":"arrow"},"mark":{"type":"line","color":"#2962ff","strokeWidth":6,"strokeCap":"round","strokeJoin":"round"},
 "encoding":{"x":{"field":"i","type":"quantitative","scale":{"domain":[-5.092,223.0],"nice":false,"zero":false},"axis":null},
 "y":{"field":"p","type":"quantitative","scale":{"domain":[1.026556,1.059356],"nice":false,"zero":false},"axis":null},
 "detail":{"field":"seg"},"order":{"field":"k"}}},
{"data":{"values":[{"t":"Euro / U.S. Dollar, 30, FXCM"}]},"mark":{"type":"text","font":"Roboto","fontSize":23,"fontWeight":500,"align":"left","baseline":"middle","color":"#131722"},
 "encoding":{"x":{"datum":-3.2,"type":"quantitative","scale":{"domain":[-5.092,223.0],"nice":false,"zero":false},"axis":null},
 "y":{"datum":1.05722,"type":"quantitative","scale":{"domain":[1.026556,1.059356],"nice":false,"zero":false},"axis":null},"text":{"field":"t"}}},
{"data":{"name":"pticks"},"mark":{"type":"text","fontSize":24,"align":"left","baseline":"middle","color":"#131722"},
 "encoding":{"x":{"datum":213.6,"type":"quantitative","scale":{"domain":[-5.092,223.0],"nice":false,"zero":false},"axis":null},
 "y":{"field":"v","type":"quantitative","scale":{"domain":[1.026556,1.059356],"nice":false,"zero":false},"axis":null},"text":{"field":"v","type":"quantitative","format":".5f"}}},
{"data":{"values":[{"t":"USD"}]},"mark":{"type":"text","fontSize":21,"align":"center","baseline":"middle","color":"#131722"},
 "encoding":{"x":{"datum":215.26,"type":"quantitative","scale":{"domain":[-5.092,223.0],"nice":false,"zero":false},"axis":null},
 "y":{"datum":1.057318,"type":"quantitative","scale":{"domain":[1.026556,1.059356],"nice":false,"zero":false},"axis":null},"text":{"field":"t"}}},
{"data":{"values":[{}]},"mark":{"type":"rect","fill":"#0b31f5","cornerRadiusTopRight":4,"cornerRadiusBottomRight":4},
 "encoding":{"x":{"datum":212.0,"type":"quantitative","scale":{"domain":[-5.092,223.0],"nice":false,"zero":false},"axis":null},"x2":{"datum":221.8},
 "y":{"datum":1.04661,"type":"quantitative","scale":{"domain":[1.026556,1.059356],"nice":false,"zero":false},"axis":null},"y2":{"datum":1.04603}}},
{"data":{"values":[{"t":"1.04632"}]},"mark":{"type":"text","fontSize":24,"align":"left","baseline":"middle","color":"#ffffff"},
 "encoding":{"x":{"datum":213.6,"type":"quantitative","scale":{"domain":[-5.092,223.0],"nice":false,"zero":false},"axis":null},
 "y":{"datum":1.04632,"type":"quantitative","scale":{"domain":[1.026556,1.059356],"nice":false,"zero":false},"axis":null},"text":{"field":"t"}}},
{"data":{"values":[{}]},"mark":{"type":"point","shape":"M-1,-0.5L-0.32,-0.5L-0.32,0.5L-0.62,0.5L-0.62,-0.18L-1,-0.18Z M-0.26,-0.3A0.18,0.18 0 1,0 0.1,-0.3A0.18,0.18 0 1,0 -0.26,-0.3Z M0.42,-0.5L1,-0.5L0.55,0.5L-0.02,0.5Z","filled":true,"fill":"#d1d4dc","opacity":1,"size":2400,"strokeWidth":0},
 "encoding":{"x":{"datum":-1.74,"type":"quantitative","scale":{"domain":[-5.092,223.0],"nice":false,"zero":false},"axis":null},
 "y":{"datum":1.027222,"type":"quantitative","scale":{"domain":[1.026556,1.059356],"nice":false,"zero":false},"axis":null}}},
{"data":{"values":[{"t":"TradingView"}]},"mark":{"type":"text","font":"Roboto","fontSize":26,"fontWeight":"bold","align":"left","baseline":"middle","color":"#d1d4dc"},
 "encoding":{"x":{"datum":1.05,"type":"quantitative","scale":{"domain":[-5.092,223.0],"nice":false,"zero":false},"axis":null},
 "y":{"datum":1.027222,"type":"quantitative","scale":{"domain":[1.026556,1.059356],"nice":false,"zero":false},"axis":null},"text":{"field":"t"}}}
]},
{"layer":[
{"data":{"values":[{}]},"mark":{"type":"rect","fill":"#ffffff"},
 "encoding":{"x":{"datum":-3.895,"type":"quantitative","scale":{"domain":[-5.092,223.0],"nice":false,"zero":false},"axis":null},"x2":{"datum":211.9},
 "y":{"datum":84.82,"type":"quantitative","scale":{"domain":[-13.87,535.0],"nice":false,"zero":false},"axis":null},"y2":{"datum":8.75}}},
{"data":{"values":[{}]},"mark":{"type":"rule","color":"#f23645","strokeWidth":1.5},
 "encoding":{"x":{"datum":-3.895,"type":"quantitative","scale":{"domain":[-5.092,223.0],"nice":false,"zero":false},"axis":null},"x2":{"datum":212.0},
 "y":{"datum":70,"type":"quantitative","scale":{"domain":[-13.87,535.0],"nice":false,"zero":false},"axis":null}}},
{"data":{"values":[{}]},"mark":{"type":"rule","color":"#4caf50","strokeWidth":1.5},
 "encoding":{"x":{"datum":-3.895,"type":"quantitative","scale":{"domain":[-5.092,223.0],"nice":false,"zero":false},"axis":null},"x2":{"datum":212.0},
 "y":{"datum":30,"type":"quantitative","scale":{"domain":[-13.87,535.0],"nice":false,"zero":false},"axis":null}}},
{"data":{"name":"rsi"},"mark":{"type":"line","color":"#ffb74d","strokeWidth":2.5},
 "encoding":{"x":{"field":"i","type":"quantitative","scale":{"domain":[-5.092,223.0],"nice":false,"zero":false},"axis":null},
 "y":{"field":"rm","type":"quantitative","scale":{"domain":[-13.87,535.0],"nice":false,"zero":false},"axis":null}}},
{"data":{"name":"rsi"},"mark":{"type":"line","color":"#2962ff","strokeWidth":2},
 "encoding":{"x":{"field":"i","type":"quantitative","scale":{"domain":[-5.092,223.0],"nice":false,"zero":false},"axis":null},
 "y":{"field":"r","type":"quantitative","scale":{"domain":[-13.87,535.0],"nice":false,"zero":false},"axis":null}}},
{"data":{"values":[{"y":84.82},{"y":24.49}]},"mark":{"type":"rule","color":"#50535e","strokeWidth":2},
 "encoding":{"x":{"datum":-3.895,"type":"quantitative","scale":{"domain":[-5.092,223.0],"nice":false,"zero":false},"axis":null},"x2":{"datum":221.96},
 "y":{"field":"y","type":"quantitative","scale":{"domain":[-13.87,535.0],"nice":false,"zero":false},"axis":null}}},
{"data":{"values":[{}]},"mark":{"type":"rule","color":"#50535e","strokeWidth":2},
 "encoding":{"x":{"datum":212.0,"type":"quantitative","scale":{"domain":[-5.092,223.0],"nice":false,"zero":false},"axis":null},
 "y":{"datum":509.7,"type":"quantitative","scale":{"domain":[-13.87,535.0],"nice":false,"zero":false},"axis":null},"y2":{"datum":8.07}}},
{"data":{"name":"rticks"},"mark":{"type":"text","fontSize":24,"align":"left","baseline":"middle","color":"#131722"},
 "encoding":{"x":{"datum":213.6,"type":"quantitative","scale":{"domain":[-5.092,223.0],"nice":false,"zero":false},"axis":null},
 "y":{"field":"v","type":"quantitative","scale":{"domain":[-13.87,535.0],"nice":false,"zero":false},"axis":null},"text":{"field":"v","type":"quantitative","format":".2f"}}},
{"data":{"name":"tticks"},"transform":[{"filter":"!datum.day"}],"mark":{"type":"text","fontSize":23,"align":"center","baseline":"middle","color":"#131722"},
 "encoding":{"x":{"field":"i","type":"quantitative","scale":{"domain":[-5.092,223.0],"nice":false,"zero":false},"axis":null},
 "y":{"datum":16.3,"type":"quantitative","scale":{"domain":[-13.87,535.0],"nice":false,"zero":false},"axis":null},"text":{"field":"lab"}}},
{"data":{"name":"tticks"},"transform":[{"filter":"datum.day"}],"mark":{"type":"text","fontSize":23,"fontWeight":"bold","align":"center","baseline":"middle","color":"#131722"},
 "encoding":{"x":{"field":"i","type":"quantitative","scale":{"domain":[-5.092,223.0],"nice":false,"zero":false},"axis":null},
 "y":{"datum":16.3,"type":"quantitative","scale":{"domain":[-13.87,535.0],"nice":false,"zero":false},"axis":null},"text":{"field":"lab"}}}
]}
],
"resolve":{"scale":{"y":"independent"}}
}
